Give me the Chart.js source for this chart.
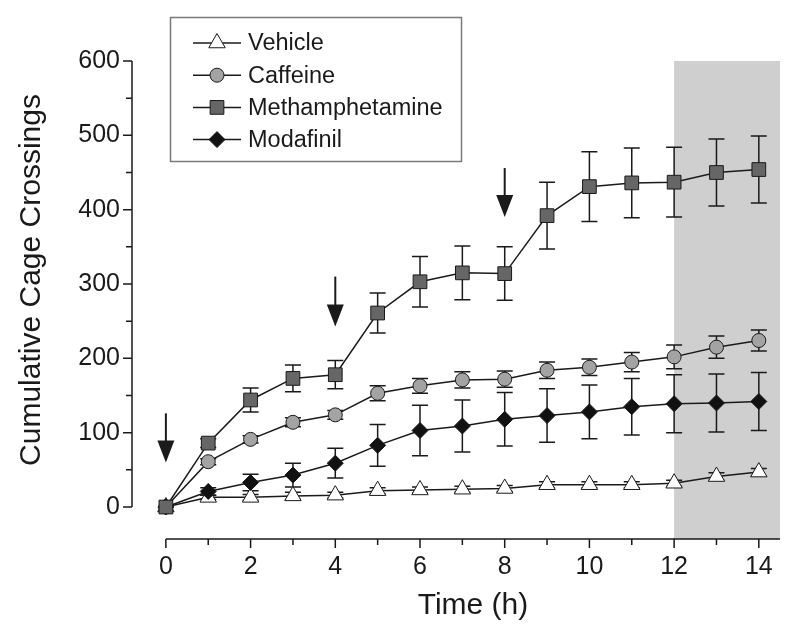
<!DOCTYPE html>
<html>
<head>
<meta charset="utf-8">
<script src="https://cdn.jsdelivr.net/npm/chart.js@4/dist/chart.umd.min.js"></script>
<style>
  html, body { margin: 0; padding: 0; background: #fff; }
  canvas { display: block; }
</style>
</head>
<body>
<canvas id="chart" width="800" height="629"></canvas>
<script>
const hours = [0, 1, 2, 3, 4, 5, 6, 7, 8, 9, 10, 11, 12, 13, 14];

const vehicle = [0, 13, 13, 15, 16, 22, 23, 24, 25, 30, 30, 30, 32, 41, 47];
const vehicleErr = [0, 3, 4, 5, 4, 4, 4, 4, 4, 4, 4, 4, 4, 5, 5];

const caffeine = [0, 61, 91, 114, 124, 153, 163, 171, 172, 184, 188, 195, 202, 215, 224];
const caffeineErr = [0, 4, 5, 6, 6, 10, 10, 11, 11, 11, 11, 13, 16, 15, 14];

const meth = [0, 86, 144, 173, 178, 261, 303, 315, 314, 392, 431, 436, 437, 450, 454];
const methErr = [0, 6, 16, 18, 19, 27, 34, 36, 36, 45, 47, 47, 47, 45, 45];

const modafinil = [0, 21, 33, 43, 59, 83, 103, 109, 118, 123, 128, 135, 139, 140, 142];
const modafinilErr = [0, 5, 11, 16, 20, 28, 34, 35, 36, 36, 36, 38, 39, 39, 39];

// injection arrows (hour, top of shaft, tip)
const arrowHours = [0, 4, 8];
const arrowTop = [126, 310, 456];
const arrowTip = [60, 243, 390];

// shaded dark phase
const shadeFrom = 12;
const shadeTo = 14.5;
const shadeTop = 600;

const xTicks = [0, 2, 4, 6, 8, 10, 12, 14];
const xMinorTicks = [1, 3, 5, 7, 9, 11, 13];
const yTicks = [0, 100, 200, 300, 400, 500, 600];
const yMinorTicks = [50, 150, 250, 350, 450, 550];

const FONT = "'Liberation Sans', Arial, sans-serif";
const INK = '#1a1a1a';

function pts(vals) {
    return vals.map((v, i) => ({ x: hours[i], y: v }));
}

const datasets = [
    { label: 'Vehicle', data: pts(vehicle), errors: vehicleErr, pointStyle: 'triangle',
      pointRadius: 9.5, backgroundColor: '#ffffff', order: 3 },
    { label: 'Caffeine', data: pts(caffeine), errors: caffeineErr, pointStyle: 'circle',
      pointRadius: 7, backgroundColor: '#a3a3a3', order: 2 },
    { label: 'Methamphetamine', data: pts(meth), errors: methErr, pointStyle: 'rect',
      pointRadius: 9.7, backgroundColor: '#666666', order: 0 },
    { label: 'Modafinil', data: pts(modafinil), errors: modafinilErr, pointStyle: 'rectRot',
      pointRadius: 8, backgroundColor: '#111111', order: 1 }
];
datasets.forEach(ds => {
    ds.borderColor = INK;
    ds.borderWidth = 1.5;
    ds.pointBorderColor = INK;
    ds.pointBorderWidth = 1;
    ds.pointBackgroundColor = ds.backgroundColor;
    ds.pointHoverRadius = ds.pointRadius;
    ds.tension = 0;
    ds.clip = false;
});

const decor = {
    id: 'decor',
    beforeDatasetsDraw(chart) {
        const { ctx, chartArea, scales: { x, y } } = chart;
        ctx.save();
        ctx.fillStyle = '#cfcfcf';
        const x0 = x.getPixelForValue(shadeFrom);
        const x1 = x.getPixelForValue(shadeTo);
        const yTop = y.getPixelForValue(shadeTop);
        ctx.fillRect(x0, yTop, x1 - x0, chartArea.bottom - yTop);

        // error bars
        ctx.strokeStyle = INK;
        ctx.lineWidth = 1.5;
        chart.data.datasets.forEach(ds => {
            ds.data.forEach((p, j) => {
                const e = ds.errors[j];
                if (!e) return;
                const px = x.getPixelForValue(p.x);
                const top = y.getPixelForValue(p.y + e);
                const bot = y.getPixelForValue(p.y - e);
                ctx.beginPath();
                ctx.moveTo(px, top); ctx.lineTo(px, bot);
                ctx.moveTo(px - 8, top); ctx.lineTo(px + 8, top);
                ctx.moveTo(px - 8, bot); ctx.lineTo(px + 8, bot);
                ctx.stroke();
            });
        });
        ctx.restore();
    },
    afterDraw(chart) {
        const { ctx, chartArea, scales: { x, y } } = chart;
        ctx.save();
        ctx.strokeStyle = INK;
        ctx.lineWidth = 1.5;

        // detached axes
        const yl = chartArea.left;
        const xb = chartArea.bottom;
        ctx.beginPath();
        ctx.moveTo(yl, y.getPixelForValue(yTicks[0]));
        ctx.lineTo(yl, y.getPixelForValue(yTicks[yTicks.length - 1]));
        yTicks.forEach(v => { const py = y.getPixelForValue(v); ctx.moveTo(yl - 9, py); ctx.lineTo(yl, py); });
        yMinorTicks.forEach(v => { const py = y.getPixelForValue(v); ctx.moveTo(yl - 6, py); ctx.lineTo(yl, py); });
        ctx.moveTo(x.getPixelForValue(xTicks[0]), xb);
        ctx.lineTo(chartArea.right, xb);
        xTicks.forEach(h => { const px = x.getPixelForValue(h); ctx.moveTo(px, xb); ctx.lineTo(px, xb + 9); });
        xMinorTicks.forEach(h => { const px = x.getPixelForValue(h); ctx.moveTo(px, xb); ctx.lineTo(px, xb + 6); });
        ctx.stroke();

        // arrows
        ctx.fillStyle = INK;
        ctx.lineWidth = 2;
        arrowHours.forEach((h, i) => {
            const px = x.getPixelForValue(h);
            const top = y.getPixelForValue(arrowTop[i]);
            const tip = y.getPixelForValue(arrowTip[i]);
            ctx.beginPath();
            ctx.moveTo(px, top);
            ctx.lineTo(px, tip - 20);
            ctx.stroke();
            ctx.beginPath();
            ctx.moveTo(px - 8.5, tip - 22);
            ctx.lineTo(px + 8.5, tip - 22);
            ctx.lineTo(px, tip);
            ctx.closePath();
            ctx.fill();
        });

        // axis titles
        ctx.fillStyle = INK;
        ctx.font = '30px ' + FONT;
        ctx.textAlign = 'center';
        ctx.textBaseline = 'alphabetic';
        ctx.fillText('Time (h)', 473, 614);
        ctx.translate(40, 280);
        ctx.rotate(-Math.PI / 2);
        ctx.fillText('Cumulative Cage Crossings', 0, 0);
        ctx.setTransform(1, 0, 0, 1, 0, 0);

        // legend
        ctx.strokeStyle = '#7a7a7a';
        ctx.lineWidth = 1.5;
        ctx.strokeRect(170.5, 17.5, 291, 144);
        ctx.font = '23.5px ' + FONT;
        ctx.textAlign = 'left';
        ctx.textBaseline = 'middle';
        chart.data.datasets.forEach((ds, i) => {
            const ry = 43 + i * 32.2;
            ctx.strokeStyle = INK;
            ctx.lineWidth = 1.5;
            ctx.beginPath();
            ctx.moveTo(193, ry); ctx.lineTo(241, ry);
            ctx.stroke();
            ctx.fillStyle = ds.backgroundColor;
            ctx.lineWidth = 1;
            Chart.helpers.drawPoint(ctx, { pointStyle: ds.pointStyle, radius: ds.pointRadius, rotation: 0, borderWidth: 1 }, 217, ry);
            ctx.fillStyle = INK;
            ctx.fillText(ds.label, 248, ry + 1);
        });
        ctx.restore();
    }
};

new Chart(document.getElementById('chart'), {
    type: 'line',
    data: { datasets: datasets },
    options: {
        responsive: false,
        animation: false,
        layout: { padding: { top: 61, right: 20, left: 0, bottom: 0 } },
        plugins: { legend: { display: false }, tooltip: { enabled: false } },
        scales: {
            x: {
                type: 'linear',
                min: -0.8,
                max: 14.5,
                afterBuildTicks: s => { s.ticks = xTicks.map(v => ({ value: v })); },
                afterFit: s => { s.height = 90; },
                grid: { display: false, drawTicks: false },
                border: { display: false },
                ticks: { color: INK, font: { family: FONT, size: 25 }, padding: 13, maxRotation: 0, autoSkip: false }
            },
            y: {
                min: -43,
                max: 600,
                afterBuildTicks: s => { s.ticks = yTicks.map(v => ({ value: v })); },
                afterFit: s => { s.width = 132; },
                grid: { display: false, drawTicks: false },
                border: { display: false },
                ticks: { color: INK, font: { family: FONT, size: 25 }, padding: 12 }
            }
        }
    },
    plugins: [decor]
});
</script>
</body>
</html>
